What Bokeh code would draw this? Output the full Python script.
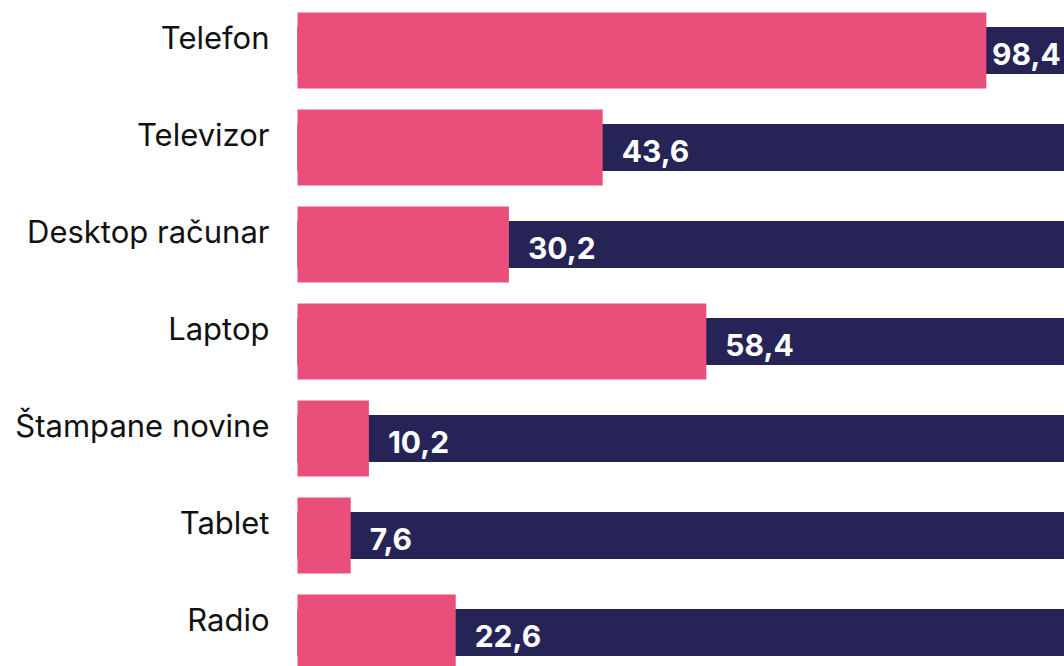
from bokeh.plotting import figure
from bokeh.models import Range1d, ColumnDataSource
from bokeh.core.properties import value
from bokeh.embed import file_html
from bokeh.resources import INLINE

categories = ["Telefon", "Televizor", "Desktop računar", "Laptop",
              "Štampane novine", "Tablet", "Radio"]
values = [98.4, 43.6, 30.2, 58.4, 10.2, 7.6, 22.6]
track_max = 120
label_limit = 96.5   # value labels are kept inside the visible track

PINK = "#E94F7A"
NAVY = "#262457"

rows = list(range(len(categories)))
labels = [f"{v:.1f}".replace(".", ",") for v in values]
label_x = [min(v, label_limit) for v in values]

src = ColumnDataSource(dict(
    y=rows, v=values, cat=categories, lab=labels, lx=label_x,
    zero=[0] * len(values), track=[track_max] * len(values),
))

p = figure(width=1064, height=666, output_backend="svg", toolbar_location=None,
           x_range=Range1d(-42.43, 109.57), y_range=Range1d(6.351, -0.5155),
           x_axis_location=None, y_axis_location=None, min_border=0,
           outline_line_color=None)
p.xgrid.visible = False
p.ygrid.visible = False
p.background_fill_color = "white"
p.border_fill_color = "white"

# dark track
p.hbar(y="y", left="zero", right="track", height=0.485, source=src,
       fill_color=NAVY, line_color=None)
# pink value bars
p.hbar(y="y", left="zero", right="v", height=0.784, source=src,
       fill_color=PINK, line_color=None)

# category labels
p.text(x="zero", y="y", text="cat", source=src, x_offset=-28, y_offset=-13,
       text_align="right", text_baseline="middle", text_color="#111111",
       text_font=value("Inter"), text_font_size="31px")

# value labels
p.text(x="lx", y="y", text="lab", source=src, x_offset=19, y_offset=4,
       text_align="left", text_baseline="middle", text_color="white",
       text_font=value("Inter"), text_font_size="30px", text_font_style="bold")

open("out.html", "w").write(file_html(p, INLINE))
